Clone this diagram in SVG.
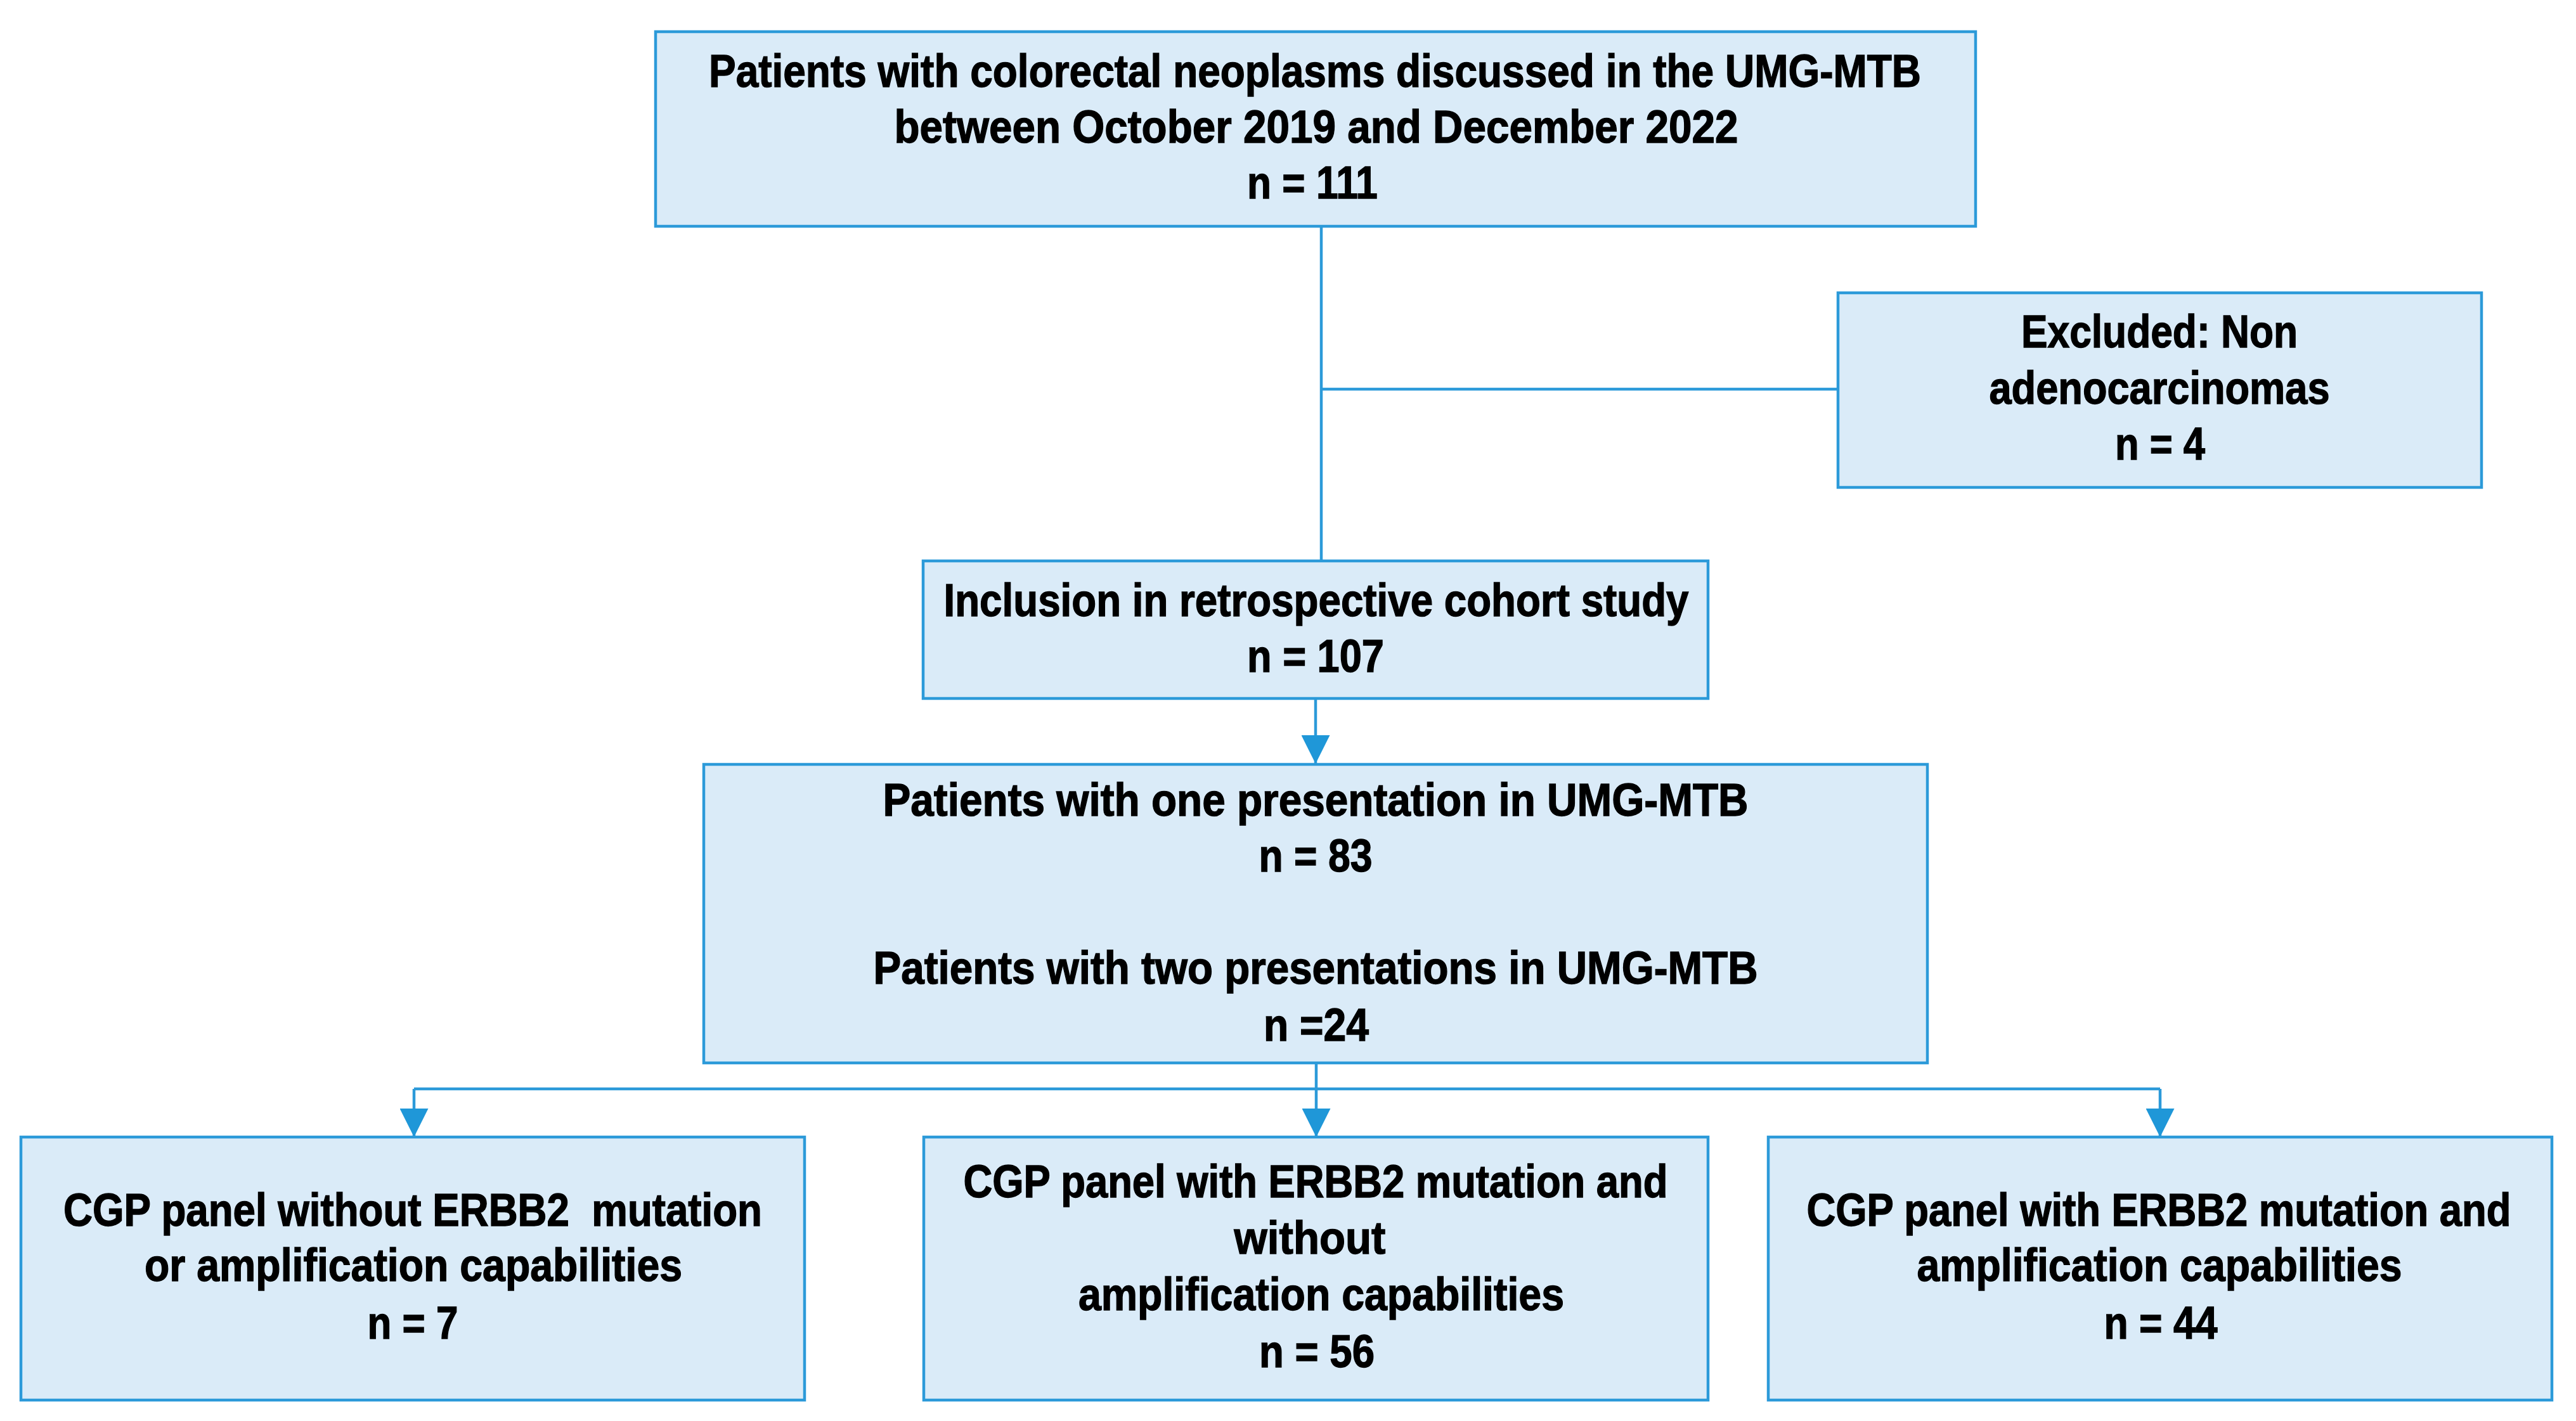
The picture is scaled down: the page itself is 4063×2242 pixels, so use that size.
<svg xmlns="http://www.w3.org/2000/svg" width="4063" height="2242" viewBox="0 0 4063 2242">
<style>
.box{fill:#DAEBF8;stroke:#2C9AD9;stroke-width:4.5}
.t{font-family:"Liberation Sans",Arial,sans-serif;font-weight:bold;font-size:73px;fill:#000;stroke:#000;stroke-width:1.4;text-anchor:middle}
.c{fill:none;stroke:#2C9AD9;stroke-width:4.5}
</style>
<defs>
<marker id="ah" viewBox="0 0 45 45" refX="45" refY="22.5" markerWidth="45" markerHeight="45" markerUnits="userSpaceOnUse" orient="auto">
<path d="M0,0 L45,22.5 L0,45 Z" fill="#1F97D8"/>
</marker>
</defs>
<rect width="4063" height="2242" fill="#fff"/>
<g id="connectors">
<path class="c" d="M2084,357 V885"/>
<path class="c" d="M2084,614 H2899"/>
<path class="c" d="M2075,1102 V1205" marker-end="url(#ah)"/>
<path class="c" d="M653,1718 H3407"/>
<path class="c" d="M2076,1677 V1794" marker-end="url(#ah)"/>
<path class="c" d="M653,1718 V1794" marker-end="url(#ah)"/>
<path class="c" d="M3407,1718 V1794" marker-end="url(#ah)"/>
</g>
<g id="node-total">
<rect class="box" x="1034" y="50" width="2082" height="307"/>
<text class="t" x="2074" y="137" textLength="1912" lengthAdjust="spacingAndGlyphs">Patients with colorectal neoplasms discussed in the UMG-MTB</text>
<text class="t" x="2076" y="225" textLength="1331" lengthAdjust="spacingAndGlyphs">between October 2019 and December 2022</text>
<text class="t" x="2070" y="313" textLength="206" lengthAdjust="spacingAndGlyphs">n = 111</text>
</g>
<g id="node-excluded">
<rect class="box" x="2899" y="462" width="1015" height="307"/>
<text class="t" x="3406" y="548" textLength="436" lengthAdjust="spacingAndGlyphs">Excluded: Non</text>
<text class="t" x="3406" y="637" textLength="537" lengthAdjust="spacingAndGlyphs">adenocarcinomas</text>
<text class="t" x="3407" y="725" textLength="142" lengthAdjust="spacingAndGlyphs">n = 4</text>
</g>
<g id="node-inclusion">
<rect class="box" x="1456" y="885" width="1238" height="217"/>
<text class="t" x="2076" y="972" textLength="1175" lengthAdjust="spacingAndGlyphs">Inclusion in retrospective cohort study</text>
<text class="t" x="2075" y="1060" textLength="216" lengthAdjust="spacingAndGlyphs">n = 107</text>
</g>
<g id="node-presentations">
<rect class="box" x="1110" y="1206" width="1930" height="471"/>
<text class="t" x="2075" y="1287" textLength="1365" lengthAdjust="spacingAndGlyphs">Patients with one presentation in UMG-MTB</text>
<text class="t" x="2075" y="1375" textLength="179" lengthAdjust="spacingAndGlyphs">n = 83</text>
<text class="t" x="2075" y="1552" textLength="1395" lengthAdjust="spacingAndGlyphs">Patients with two presentations in UMG-MTB</text>
<text class="t" x="2076" y="1642" textLength="166" lengthAdjust="spacingAndGlyphs">n =24</text>
</g>
<g id="node-cgp-none">
<rect class="box" x="33" y="1794" width="1236" height="415"/>
<text class="t" x="651" y="1934" textLength="1102" lengthAdjust="spacingAndGlyphs" xml:space="preserve">CGP panel without ERBB2  mutation</text>
<text class="t" x="652" y="2021" textLength="848" lengthAdjust="spacingAndGlyphs">or amplification capabilities</text>
<text class="t" x="651" y="2112" textLength="143" lengthAdjust="spacingAndGlyphs">n = 7</text>
</g>
<g id="node-cgp-mut">
<rect class="box" x="1457" y="1794" width="1237" height="415"/>
<text class="t" x="2075" y="1889" textLength="1111" lengthAdjust="spacingAndGlyphs">CGP panel with ERBB2 mutation and</text>
<text class="t" x="2066" y="1978" textLength="239" lengthAdjust="spacingAndGlyphs">without</text>
<text class="t" x="2084" y="2067" textLength="766" lengthAdjust="spacingAndGlyphs">amplification capabilities</text>
<text class="t" x="2077" y="2157" textLength="182" lengthAdjust="spacingAndGlyphs">n = 56</text>
</g>
<g id="node-cgp-amp">
<rect class="box" x="2789" y="1794" width="1236" height="415"/>
<text class="t" x="3405" y="1934" textLength="1111" lengthAdjust="spacingAndGlyphs">CGP panel with ERBB2 mutation and</text>
<text class="t" x="3406" y="2021" textLength="765" lengthAdjust="spacingAndGlyphs">amplification capabilities</text>
<text class="t" x="3408" y="2112" textLength="179" lengthAdjust="spacingAndGlyphs">n = 44</text>
</g>
</svg>
